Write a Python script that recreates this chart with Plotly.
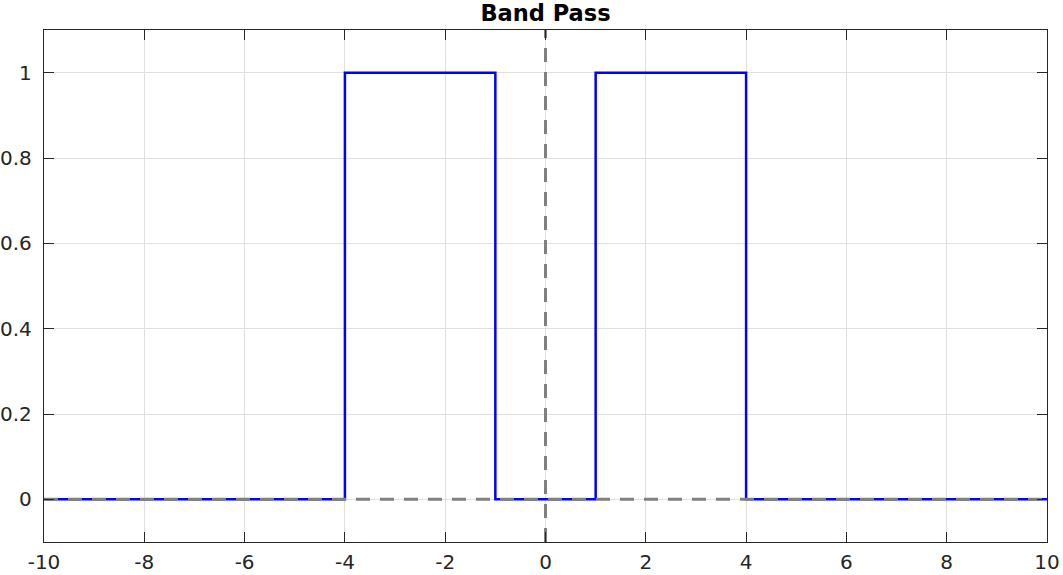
import plotly.graph_objects as go

# Band-pass response (frequency vs gain)
freq = [-10, -4, -4, -1, -1, 1, 1, 4, 4, 10]
gain = [0, 0, 1, 1, 0, 0, 1, 1, 0, 0]

# reference axes lines (dashed)
hline_x = [-10, 10]
hline_y = [0, 0]
vline_x = [0, 0]
vline_y = [-0.1, 1.1]

x_ticks = [-10, -8, -6, -4, -2, 0, 2, 4, 6, 8, 10]
x_ticktext = ["-10", "-8", "-6", "-4", "-2", "0", "2", "4", "6", "8", "10"]
y_ticks = [0, 0.2, 0.4, 0.6, 0.8, 1]
y_ticktext = ["0", "0.2", "0.4", "0.6", "0.8", "1"]

title_text = "Band Pass"

W, H = 1063, 575

fig = go.Figure()
fig.add_trace(go.Scatter(x=freq, y=gain, mode="lines",
                         line=dict(color="#0000ff", width=2.5),
                         showlegend=False, hoverinfo="skip"))
fig.add_trace(go.Scatter(x=hline_x, y=hline_y, mode="lines",
                         line=dict(color="#808080", width=3, dash="14px,10px"),
                         showlegend=False, hoverinfo="skip"))
fig.add_trace(go.Scatter(x=vline_x, y=vline_y, mode="lines",
                         line=dict(color="#808080", width=3, dash="14px,10px"),
                         showlegend=False, hoverinfo="skip"))

axis_common = dict(
    showline=True, linecolor="#262626", linewidth=1.2, mirror="ticks",
    ticks="inside", ticklen=10, tickwidth=1, tickcolor="#262626",
    showgrid=True, gridcolor="#dfdfdf", gridwidth=1,
    zeroline=False, automargin=False,
    tickfont=dict(family="DejaVu Sans", size=20, color="#262626"),
)

fig.update_layout(
    width=W, height=H,
    margin=dict(l=44, r=15.5, t=29.5, b=32.5),
    paper_bgcolor="white", plot_bgcolor="white",
    title=dict(text="<b>" + title_text + "</b>", x=0.5, xref="paper",
               y=1 - 13 / H, yref="container", yanchor="middle", xanchor="center",
               font=dict(family="DejaVu Sans", size=22.5, color="black")),
    xaxis=dict(range=[-10, 10], tickvals=x_ticks, ticktext=x_ticktext,
               ticklabelstandoff=2, **axis_common),
    yaxis=dict(range=[-0.1, 1.1], tickvals=y_ticks, ticktext=y_ticktext,
               ticklabelstandoff=7, **axis_common),
)

# remove the default page margin so the figure sits at the window's corner
fig.write_html("out.html",
               config={"displayModeBar": False, "staticPlot": True},
               post_script="document.body.style.margin='0';document.body.style.overflow='hidden';")
